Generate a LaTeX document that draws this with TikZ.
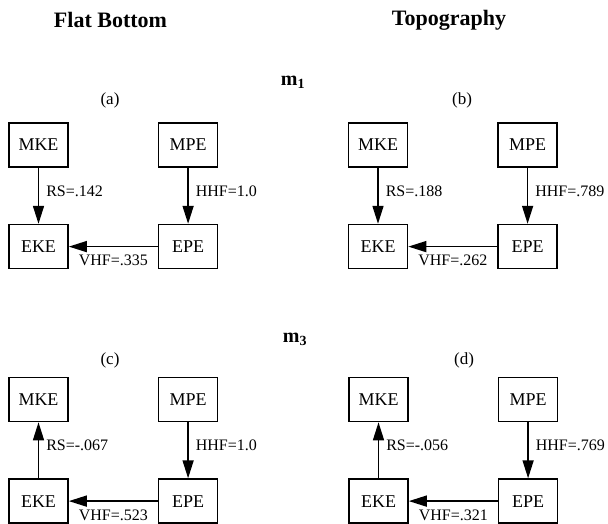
\documentclass[tikz,border=0pt]{standalone}
\usepackage{fontspec}
\setmainfont{Liberation Serif}
\usetikzlibrary{positioning,arrows.meta}

\begin{document}
\begin{tikzpicture}[
    x=1pt, y=-1pt,
    node distance=56pt and 89pt,
    enbox/.style={
      draw,
      line width=1.6pt,
      minimum width=59pt,
      minimum height=44pt,
      inner sep=0pt,
      font=\fontsize{18}{20}\selectfont
    },
    enarrow/.style={
      -{Triangle[length=18pt,width=11pt]},
      line width=1.5pt
    },
    enlabel/.style={
      font=\fontsize{16}{18}\selectfont,
      inner sep=1pt
    },
    coltitle/.style={
      font=\bfseries\fontsize{22}{24}\selectfont
    },
    modetitle/.style={
      font=\bfseries\fontsize{20}{22}\selectfont
    },
    paneltag/.style={
      font=\fontsize{17}{19}\selectfont
    }
  ]
  \useasboundingbox (0,0) rectangle (608,523);

  % column and mode headings
  \node[coltitle] (flat) at (110.5,20) {Flat Bottom};
  \node[coltitle] (topo) at (449,20) {Topography};
  \node[modetitle] (mone) at (293,82) {m\textsubscript{1}};
  \node[modetitle] (mthree) at (295,339) {m\textsubscript{3}};

  % (a) flat bottom, m1
  \node[paneltag] (tagA) at (110,100) {(a)};
  \node[enbox] (mkeA) at (38.5,145) {MKE};
  \node[enbox, right=of mkeA] (mpeA) {MPE};
  \node[enbox, below=of mkeA] (ekeA) {EKE};
  \node[enbox, below=of mpeA] (epeA) {EPE};
  \draw[enarrow] (mkeA) -- node[enlabel, right=6pt, pos=0.42] {RS=.142} (ekeA);
  \draw[enarrow] (mpeA) -- node[enlabel, right=6pt, pos=0.42] {HHF=1.0} (epeA);
  \draw[enarrow] (epeA) -- node[enlabel, below=7pt] {VHF=.335} (ekeA);

  % (b) topography, m1
  \node[paneltag] (tagB) at (462,100) {(b)};
  \node[enbox] (mkeB) at (378,145) {MKE};
  \node[enbox, right=of mkeB] (mpeB) {MPE};
  \node[enbox, below=of mkeB] (ekeB) {EKE};
  \node[enbox, below=of mpeB] (epeB) {EPE};
  \draw[enarrow] (mkeB) -- node[enlabel, right=6pt, pos=0.42] {RS=.188} (ekeB);
  \draw[enarrow] (mpeB) -- node[enlabel, right=6pt, pos=0.42] {HHF=.789} (epeB);
  \draw[enarrow] (epeB) -- node[enlabel, below=7pt] {VHF=.262} (ekeB);

  % (c) flat bottom, m3
  \node[paneltag] (tagC) at (110,360) {(c)};
  \node[enbox] (mkeC) at (38.5,399.5) {MKE};
  \node[enbox, right=of mkeC] (mpeC) {MPE};
  \node[enbox, below=of mkeC] (ekeC) {EKE};
  \node[enbox, below=of mpeC] (epeC) {EPE};
  \draw[enarrow] (ekeC) -- node[enlabel, right=6pt, pos=0.59] {RS=-.067} (mkeC);
  \draw[enarrow] (mpeC) -- node[enlabel, right=6pt, pos=0.41] {HHF=1.0} (epeC);
  \draw[enarrow] (epeC) -- node[enlabel, below=7pt] {VHF=.523} (ekeC);

  % (d) topography, m3
  \node[paneltag] (tagD) at (464,360) {(d)};
  \node[enbox] (mkeD) at (378.5,399.5) {MKE};
  \node[enbox, right=of mkeD] (mpeD) {MPE};
  \node[enbox, below=of mkeD] (ekeD) {EKE};
  \node[enbox, below=of mpeD] (epeD) {EPE};
  \draw[enarrow] (ekeD) -- node[enlabel, right=6pt, pos=0.59] {RS=-.056} (mkeD);
  \draw[enarrow] (mpeD) -- node[enlabel, right=6pt, pos=0.41] {HHF=.769} (epeD);
  \draw[enarrow] (epeD) -- node[enlabel, below=7pt] {VHF=.321} (ekeD);

\end{tikzpicture}
\end{document}
